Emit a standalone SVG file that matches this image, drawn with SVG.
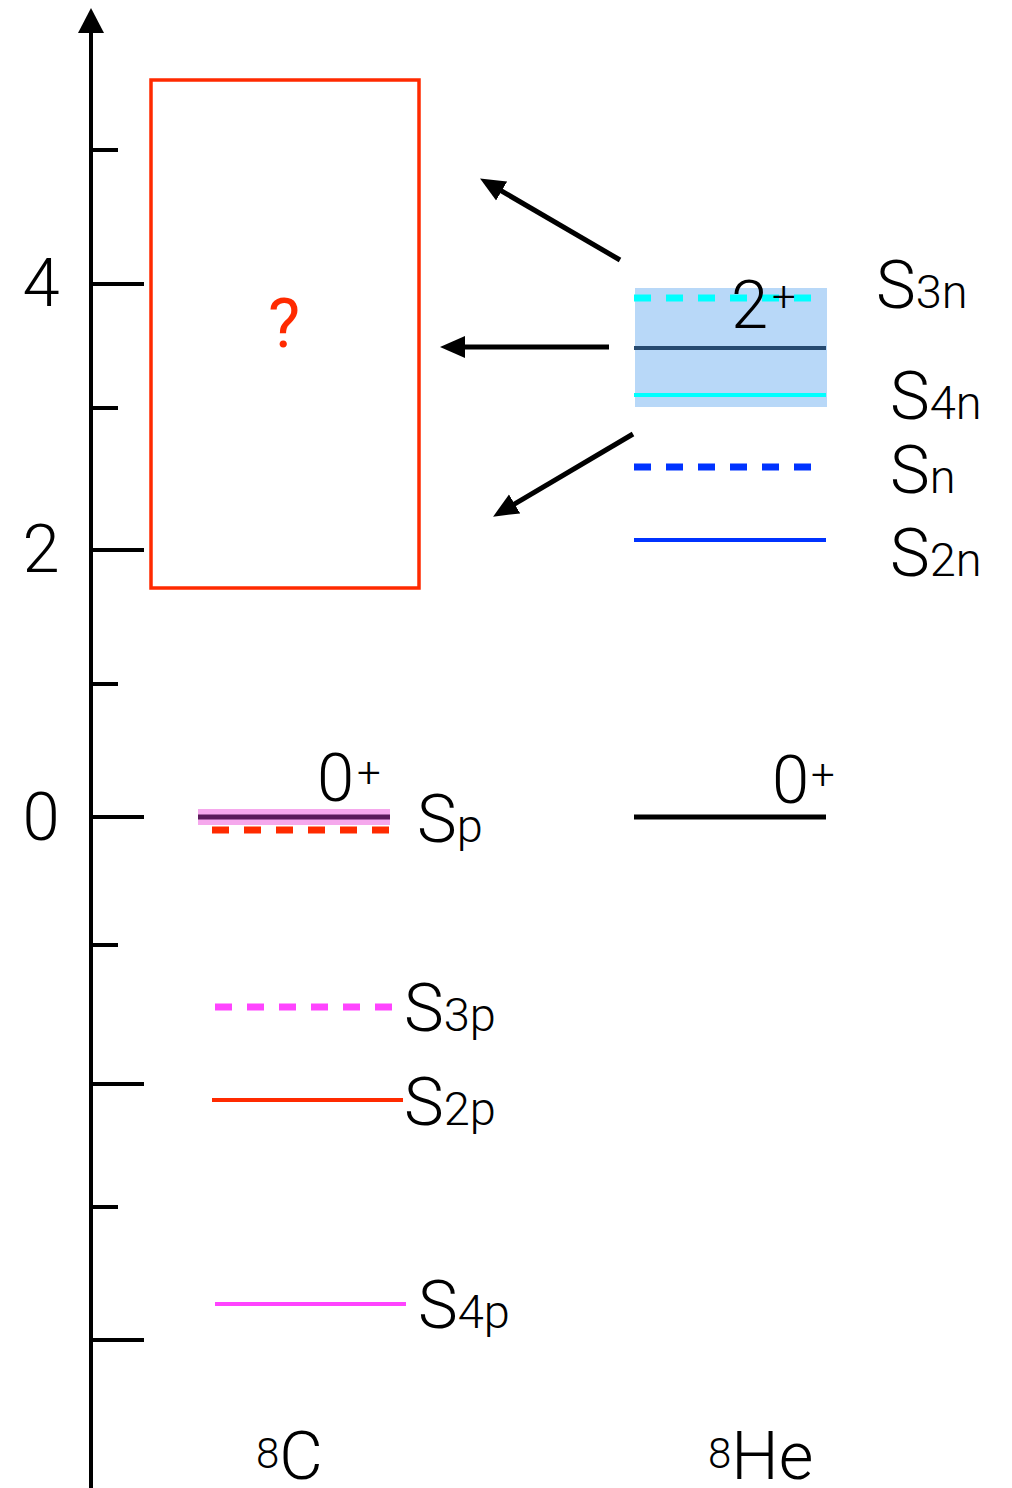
<svg xmlns="http://www.w3.org/2000/svg" width="1012" height="1488" viewBox="0 0 1012 1488">
<style>
text{font-family:Roboto,"Liberation Sans",sans-serif;font-weight:300;fill:#000}
.big{font-size:67px}
.sub{font-size:47px}
.sup{font-size:42px}
.tick{stroke:#000;stroke-width:4}
.dash{stroke-width:7;stroke-dasharray:17 15;fill:none}
.arr{stroke:#000;stroke-width:5;fill:none;marker-end:url(#ah)}
</style>
<defs>
<marker id="ah" markerWidth="26" markerHeight="24" refX="10" refY="11" orient="auto" markerUnits="userSpaceOnUse" viewBox="0 0 26 22">
<path d="M0,0 L25,11 L0,22 Z" fill="#000"/>
</marker>
</defs>
<rect width="1012" height="1488" fill="#fff"/>
<g id="axis">
<line x1="91" y1="30" x2="91" y2="1488" stroke="#000" stroke-width="4"/>
<path d="M91,8 L78,33 L104,33 Z" fill="#000"/>
<line class="tick" x1="91" y1="150" x2="118" y2="150"/>
<line class="tick" x1="91" y1="284" x2="144" y2="284"/>
<line class="tick" x1="91" y1="408" x2="118" y2="408"/>
<line class="tick" x1="91" y1="550" x2="144" y2="550"/>
<line class="tick" x1="91" y1="684" x2="118" y2="684"/>
<line class="tick" x1="91" y1="817" x2="144" y2="817"/>
<line class="tick" x1="91" y1="945" x2="118" y2="945"/>
<line class="tick" x1="91" y1="1084" x2="144" y2="1084"/>
<line class="tick" x1="91" y1="1207" x2="118" y2="1207"/>
<line class="tick" x1="91" y1="1340" x2="144" y2="1340"/>
<text class="big" x="41" y="306" text-anchor="middle">4</text>
<text class="big" x="41" y="572" text-anchor="middle">2</text>
<text class="big" x="41" y="840" text-anchor="middle">0</text>
</g>
<g id="unknown-box">
<rect x="151" y="80" width="268" height="508" fill="none" stroke="#ff2a00" stroke-width="3.5"/>
<text x="284" y="347" font-size="68" text-anchor="middle" style="fill:#ff2a00;font-weight:400">?</text>
</g>
<g id="he8-excited">
<rect x="635" y="288" width="192" height="119" fill="#b8d8f8"/>
<line class="dash" x1="634" y1="298" x2="812" y2="298" stroke="#00ffff"/>
<line x1="634" y1="348" x2="826" y2="348" stroke="#264a70" stroke-width="4"/>
<line x1="634" y1="395" x2="826" y2="395" stroke="#00ffff" stroke-width="4"/>
<text class="big" x="731" y="328">2</text>
<text class="sup" x="772" y="311">+</text>
</g>
<g id="he8-thresholds">
<line class="dash" x1="634" y1="467" x2="812" y2="467" stroke="#0033ff"/>
<line x1="634" y1="540" x2="826" y2="540" stroke="#0033ff" stroke-width="4"/>
<text x="876" y="308"><tspan class="big">S</tspan><tspan class="sub">3n</tspan></text>
<text x="890" y="419"><tspan class="big">S</tspan><tspan class="sub">4n</tspan></text>
<text x="890" y="493"><tspan class="big">S</tspan><tspan class="sub">n</tspan></text>
<text x="890" y="576"><tspan class="big">S</tspan><tspan class="sub">2n</tspan></text>
</g>
<g id="he8-ground">
<line x1="634" y1="817" x2="826" y2="817" stroke="#000" stroke-width="5"/>
<text class="big" x="772" y="803">0</text>
<text class="sup" x="811" y="789">+</text>
</g>
<g id="c8-ground">
<rect x="198" y="809" width="192" height="16" fill="#f5a8ec"/>
<line x1="198" y1="817" x2="390" y2="817" stroke="#5a1a5a" stroke-width="5"/>
<line class="dash" x1="212" y1="830" x2="390" y2="830" stroke="#ff2a00" stroke-dasharray="16 16"/>
<text class="big" x="317" y="801">0</text>
<text class="sup" x="357" y="787">+</text>
<text x="417" y="842"><tspan class="big">S</tspan><tspan class="sub">p</tspan></text>
</g>
<g id="c8-thresholds">
<line class="dash" x1="215" y1="1007" x2="392" y2="1007" stroke="#ff44ff" stroke-dasharray="16 16"/>
<line x1="212" y1="1100" x2="403" y2="1100" stroke="#ff2a00" stroke-width="4"/>
<line x1="215" y1="1304" x2="406" y2="1304" stroke="#ff44ff" stroke-width="4"/>
<text x="404" y="1031"><tspan class="big">S</tspan><tspan class="sub">3p</tspan></text>
<text x="404" y="1125"><tspan class="big">S</tspan><tspan class="sub">2p</tspan></text>
<text x="418" y="1328"><tspan class="big">S</tspan><tspan class="sub">4p</tspan></text>
</g>
<g id="labels">
<text x="256" y="1479"><tspan class="sup" dy="-11">8</tspan><tspan class="big" dy="11">C</tspan></text>
<text x="708" y="1479"><tspan class="sup" dy="-11">8</tspan><tspan class="big" dy="11">He</tspan></text>
</g>
<g id="connectors">
<line class="arr" x1="620" y1="260" x2="493" y2="186"/>
<line class="arr" x1="609" y1="347" x2="455" y2="347"/>
<line class="arr" x1="633" y1="434" x2="506" y2="509"/>
</g>
</svg>
